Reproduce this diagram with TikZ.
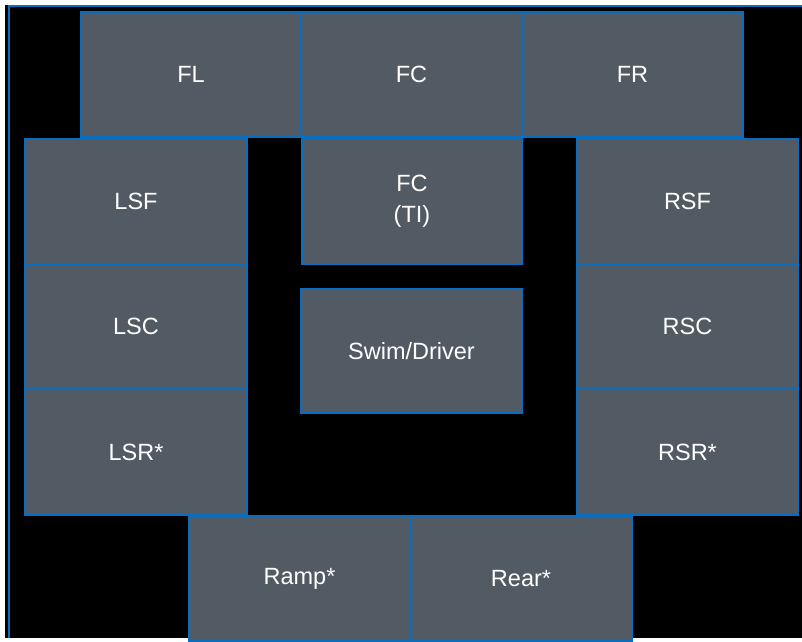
\documentclass[tikz,border=0pt]{standalone}
\usepackage{fontspec}
\setmainfont{Liberation Sans}
\definecolor{boxfill}{HTML}{525A63}
\definecolor{edgeblue}{HTML}{0A6EC0}
\begin{document}
\begin{tikzpicture}[x=1pt,y=-1pt,
  zone/.style={draw=edgeblue, line width=2pt, fill=boxfill, text=white,
    font=\fontsize{23.5}{31}\selectfont, align=center, inner sep=0pt, anchor=north west}]
\useasboundingbox (0,0) rectangle (802,641);
\fill[white] (0,0) rectangle (802,641);
\fill[black] (5,5) rectangle (802,638);
\coordinate (tl) at (9,6);
\coordinate (tr) at (802,6);
\coordinate (bl) at (9,638);
\draw[edgeblue, line width=2pt] (tr) -- (tl) -- (bl);
\newcommand{\zonebox}[6]{%
  \node[zone, minimum width={#4-#2}, minimum height={#5-#3}] (#1) at (#2,#3) {#6};}
\zonebox{FL}{80}{11}{300}{136}{FL}
\zonebox{FC}{300}{11}{521}{136}{FC}
\zonebox{FR}{521}{11}{742}{136}{FR}
\zonebox{LSF}{24}{138}{246}{263}{LSF}
\zonebox{FCTI}{301}{138}{521}{263}{FC\\(TI)}
\zonebox{RSF}{576}{138}{797}{263}{RSF}
\zonebox{LSC}{24}{263}{246}{388}{LSC}
\zonebox{Swim}{300}{288}{521}{412}{Swim/Driver}
\zonebox{RSC}{576}{263}{797}{388}{RSC}
\zonebox{LSR}{24}{388}{246}{514}{LSR*}
\zonebox{RSR}{576}{388}{797}{514}{RSR*}
\zonebox{Ramp}{188}{515}{409}{640}{Ramp*}
\zonebox{Rear}{409}{515}{631}{640}{Rear*}
\end{tikzpicture}
\end{document}
